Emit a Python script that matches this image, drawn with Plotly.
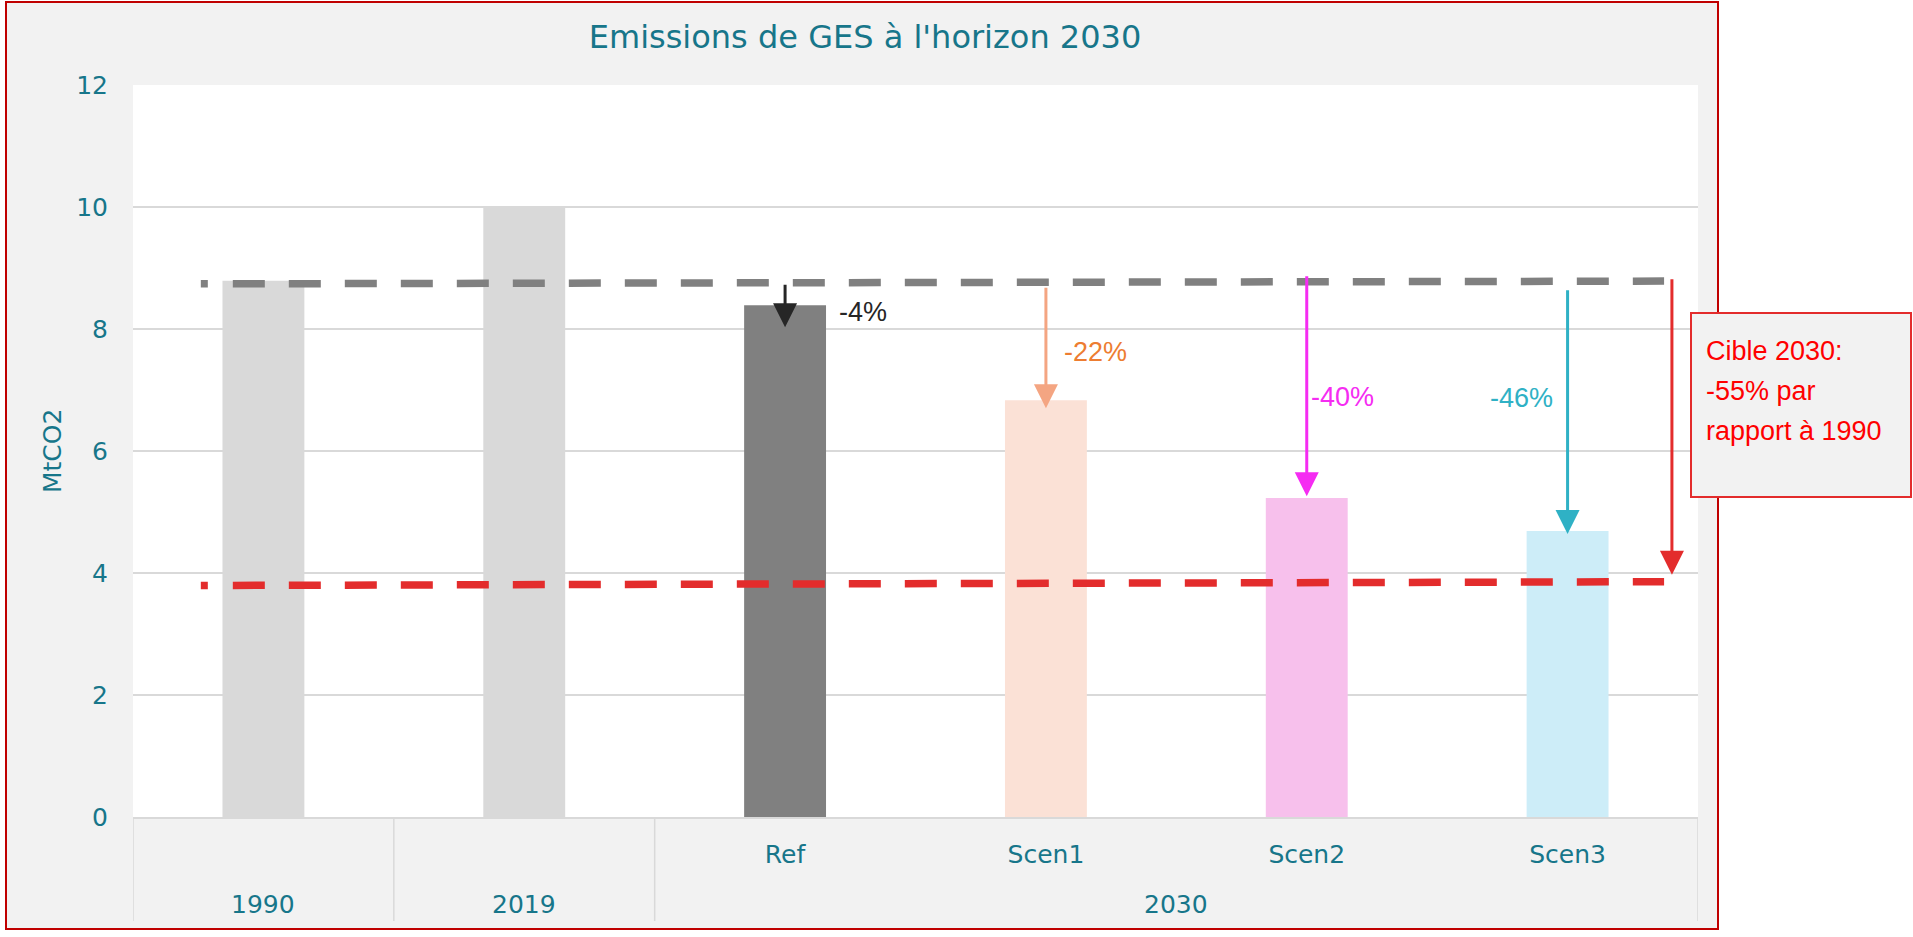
import plotly.graph_objects as go

periods = ["1990", "2019", "2030", "2030", "2030", "2030"]
scenarios = ["", "", "Ref", "Scen1", "Scen2", "Scen3"]
emissions = [8.79, 10.0, 8.39, 6.83, 5.23, 4.69]

# dashed reference lines: 1990 level and the -55% target
line_x = [-0.24, 5.37]
level_1990 = [8.74, 8.785]
target_2030 = [3.795, 3.857]

# reduction arrows (scenario arrows, then the target arrow)
arrow_x = [2, 3, 4, 5, 5.40]
arrow_start = [8.75, 8.70, 8.89, 8.66, 8.84]
arrow_end = [8.03, 6.70, 5.26, 4.64, 3.97]
reduction_labels = ["-4%", "-22%", "-40%", "-46%"]
target_lines = ["Cible 2030:", "-55% par", "rapport à 1990"]

TEAL = "#17768A"
GRID = "#D9D9D9"
bar_colors = ["#D9D9D9", "#D9D9D9", "#808080", "#FBE1D6", "#F7C0EC", "#CDEDF8"]
arrow_colors = ["#262626", "#F4A582", "#F52CF2", "#2FB1C5", "#E32C2C"]
label_colors = ["#262626", "#ED7D31", "#F52CF2", "#2FB1C5"]
AXIS_FONT = "DejaVu Sans, Verdana, sans-serif"
NOTE_FONT = "Liberation Sans, Arial, sans-serif"

W, H = 1913, 937
L, R, T, B = 133, 1698, 85, 817


def px(x):
    return (x - L) / (R - L)


def py(y):
    return (B - y) / (B - T)


categories = [f"{p} {s}".strip() for p, s in zip(periods, scenarios)]

fig = go.Figure()
fig.add_trace(go.Bar(x=categories, y=emissions, marker_color=bar_colors,
                     marker_line_width=0, hoverinfo="skip", showlegend=False))

dash = "7px,25px," + ",".join(["32px,24px"] * 27)
fig.add_trace(go.Scatter(x=line_x, y=level_1990, xaxis="x2", mode="lines",
                         line=dict(color="#808080", width=7.5, dash=dash),
                         hoverinfo="skip", showlegend=False))
fig.add_trace(go.Scatter(x=line_x, y=target_2030, xaxis="x2", mode="lines",
                         line=dict(color="#E32C2C", width=7.5, dash=dash),
                         hoverinfo="skip", showlegend=False))

annotations = []
for xa, y0, y1, c in zip(arrow_x, arrow_start, arrow_end, arrow_colors):
    annotations.append(dict(x=xa, y=y1, ax=xa, ay=y0, xref="x2", yref="y", axref="x2", ayref="y",
                            text="", showarrow=True, arrowhead=2, arrowsize=1.6, arrowwidth=3,
                            arrowcolor=c, standoff=0))

label_pos = [(2.20, 8.28, "left"), (3.06, 7.62, "left"), (4.01, 6.89, "left"), (4.95, 6.87, "right")]
for (lx, ly, anchor), txt, c in zip(label_pos, reduction_labels, label_colors):
    annotations.append(dict(x=lx, y=ly, xref="x2", yref="y", text=txt, showarrow=False,
                            xanchor=anchor, yanchor="middle", font=dict(family=NOTE_FONT, size=27, color=c)))

# outer category row and dividers
groups = []
for i, p in enumerate(periods):
    if groups and groups[-1][0] == p:
        groups[-1][2] = i
    else:
        groups.append([p, i, i])

shapes = []
for p, i0, i1 in groups:
    annotations.append(dict(x=(i0 + i1) / 2, y=py(905), xref="x2", yref="paper", text=p, showarrow=False,
                            yanchor="middle", font=dict(family=AXIS_FONT, size=25, color=TEAL)))
bounds = [groups[0][1] - 0.5] + [g[2] + 0.5 for g in groups]
for xb in bounds:
    shapes.append(dict(type="line", xref="x2", yref="paper", x0=xb, x1=xb, y0=0, y1=py(921),
                       line=dict(color=GRID, width=1.5)))

# white outside the chart frame, then the frame itself
for x0, x1, y0, y1 in [(1718, W + 5, H + 5, -5), (-5, W + 5, H + 5, 929), (-5, 6, H + 5, -5), (-5, W + 5, 2, -5)]:
    shapes.append(dict(type="rect", xref="paper", yref="paper", x0=px(x0), x1=px(x1), y0=py(y0), y1=py(y1),
                       fillcolor="white", line_width=0, layer="below"))
shapes.append(dict(type="rect", xref="paper", yref="paper", x0=px(6), x1=px(1718), y0=py(929), y1=py(2),
                   line=dict(color="#C00000", width=2), fillcolor="rgba(0,0,0,0)", layer="below"))

annotations.append(dict(x=px(52), y=py(451), xref="paper", yref="paper", text="MtCO2", textangle=-90,
                        xanchor="center", yanchor="middle", showarrow=False,
                        font=dict(family=AXIS_FONT, size=25, color=TEAL)))

# target call-out box
shapes.append(dict(type="rect", xref="paper", yref="paper", x0=px(1691), x1=px(1911), y0=py(497), y1=py(313),
                   line=dict(color="#E32C2C", width=2), fillcolor="#F2F2F2", layer="above"))
for k, txt in enumerate(target_lines):
    annotations.append(dict(x=px(1704), y=py(351 + 40 * k), xref="paper", yref="paper", text=txt,
                            xanchor="left", yanchor="middle", showarrow=False,
                            font=dict(family=NOTE_FONT, size=27, color="#FF0000")))

fig.update_layout(
    width=W, height=H,
    margin=dict(l=L, r=W - R, t=T, b=H - B),
    paper_bgcolor="#F2F2F2",
    plot_bgcolor="white",
    bargap=0.686,
    title=dict(text="Emissions de GES à l'horizon 2030", x=px(865), xanchor="center", xref="paper",
               y=1 - 37 / H, yanchor="middle", yref="container",
               font=dict(family=AXIS_FONT, size=32, color=TEAL)),
    xaxis=dict(type="category", categoryorder="array", categoryarray=categories,
               tickvals=categories, ticktext=scenarios, range=[-0.5, 5.5],
               showgrid=False, showline=True, linecolor=GRID, linewidth=2, ticks="",
               ticklabelstandoff=14, tickfont=dict(family=AXIS_FONT, size=25, color=TEAL), fixedrange=True),
    xaxis2=dict(overlaying="x", anchor="y", range=[-0.5, 5.5], visible=False, fixedrange=True),
    yaxis=dict(range=[0, 12], dtick=2, showgrid=True, gridcolor=GRID, gridwidth=1.5, zeroline=False,
               ticks="", ticklabelstandoff=24, tickfont=dict(family=AXIS_FONT, size=25, color=TEAL),
               fixedrange=True),
    shapes=shapes,
    annotations=annotations,
)

fig.write_html("out.html", config={"displayModeBar": False},
               post_script="document.body.style.margin='0px';")
